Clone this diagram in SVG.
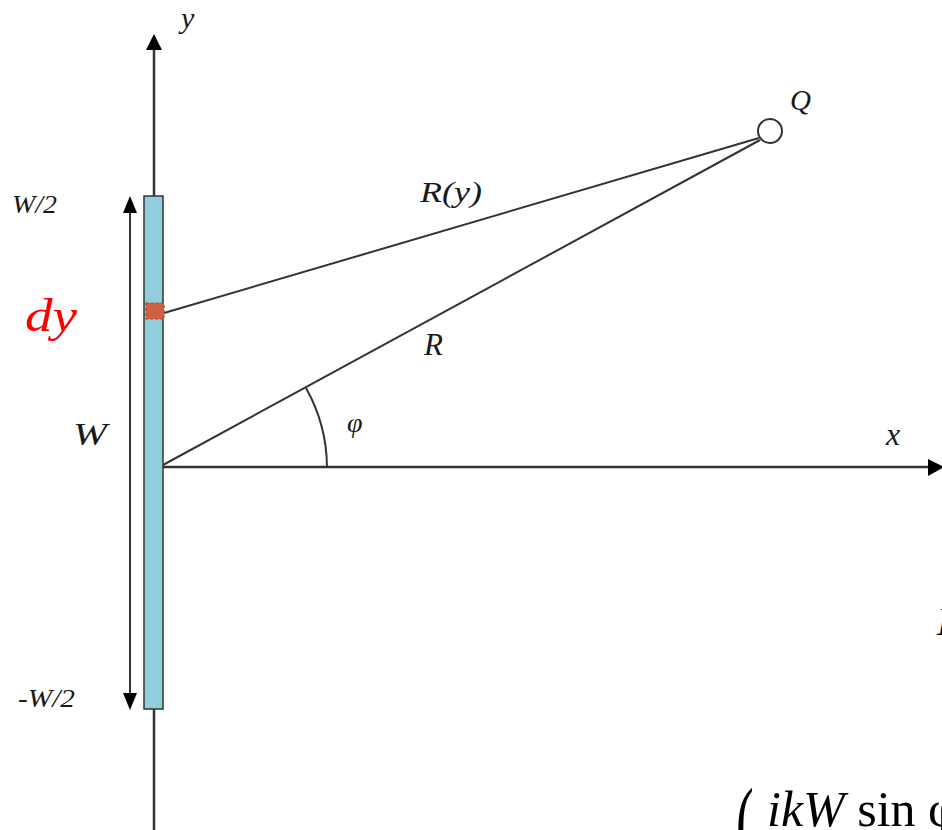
<svg xmlns="http://www.w3.org/2000/svg" width="942" height="830" viewBox="0 0 942 830">
<style>
.lab{font-family:"Liberation Serif","Times New Roman",serif;font-style:italic;fill:#1a1a1a}
.axis{stroke:#333;stroke-width:2.5;fill:none}
.ln{stroke:#333;stroke-width:2;fill:none}
.head{fill:#000}
.math{font-family:"Liberation Serif","Times New Roman",serif;fill:#000}
</style>
<rect width="942" height="830" fill="#fff"/>
<g id="axes">
  <line class="axis" x1="154" y1="48" x2="154" y2="830"/>
  <polygon class="head" points="154,34 146,50 162,50"/>
  <line class="axis" x1="163" y1="467" x2="930" y2="467"/>
  <polygon class="head" points="944,467 928,459 928,476"/>
</g>
<g id="connectors">
  <line class="ln" x1="164" y1="313" x2="759" y2="138"/>
  <line class="ln" x1="163" y1="465" x2="760" y2="140"/>
  <path class="ln" d="M306,388 A164,164 0 0 1 327,467"/>
  <line class="ln" x1="130" y1="210" x2="130" y2="696"/>
  <polygon class="head" points="130,196 123,213 137,213"/>
  <polygon class="head" points="130,710 123,693 137,693"/>
</g>
<g id="bar">
  <rect x="144" y="196" width="19" height="513" fill="#92CDDC" stroke="#333" stroke-width="1.5"/>
</g>
<g id="dy">
  <rect x="146" y="303" width="18" height="16" fill="#D0603F" stroke="#A94A30" stroke-width="1.2" stroke-dasharray="3,2"/>
  <text x="25" y="331" font-size="46" textLength="52" lengthAdjust="spacingAndGlyphs" style="font-family:'Liberation Serif',serif;font-style:italic;fill:#ff0000">dy</text>
</g>
<g id="Q">
  <circle cx="770" cy="131" r="12" fill="#fff" stroke="#333" stroke-width="2"/>
  <text class="lab" x="790" y="110" font-size="29">Q</text>
</g>
<g id="labels">
  <text class="lab" x="181" y="28" font-size="30">y</text>
  <text class="lab" x="886" y="445" font-size="32">x</text>
  <text class="lab" x="12" y="213" font-size="25" textLength="45" lengthAdjust="spacingAndGlyphs">W/2</text>
  <text class="lab" x="18" y="707" font-size="25" textLength="57" lengthAdjust="spacingAndGlyphs">-W/2</text>
  <text class="lab" x="73" y="445" font-size="31" textLength="34" lengthAdjust="spacingAndGlyphs">W</text>
  <text class="lab" x="347" y="432" font-size="28">φ</text>
  <text class="lab" x="420" y="202" font-size="30" textLength="62" lengthAdjust="spacingAndGlyphs">R(y)</text>
  <text class="lab" x="424" y="355" font-size="31">R</text>
</g>
<g id="formula">
  <text class="math" x="736" y="854" font-size="96" transform="translate(736,0) scale(0.55,1) translate(-736,0)">(</text>
  <text class="math" x="767" y="826" font-size="50"><tspan font-style="italic">ikW</tspan> sin φ</text>
  <text class="math" x="937" y="635" font-size="40" font-style="italic">E</text>
</g>
</svg>
